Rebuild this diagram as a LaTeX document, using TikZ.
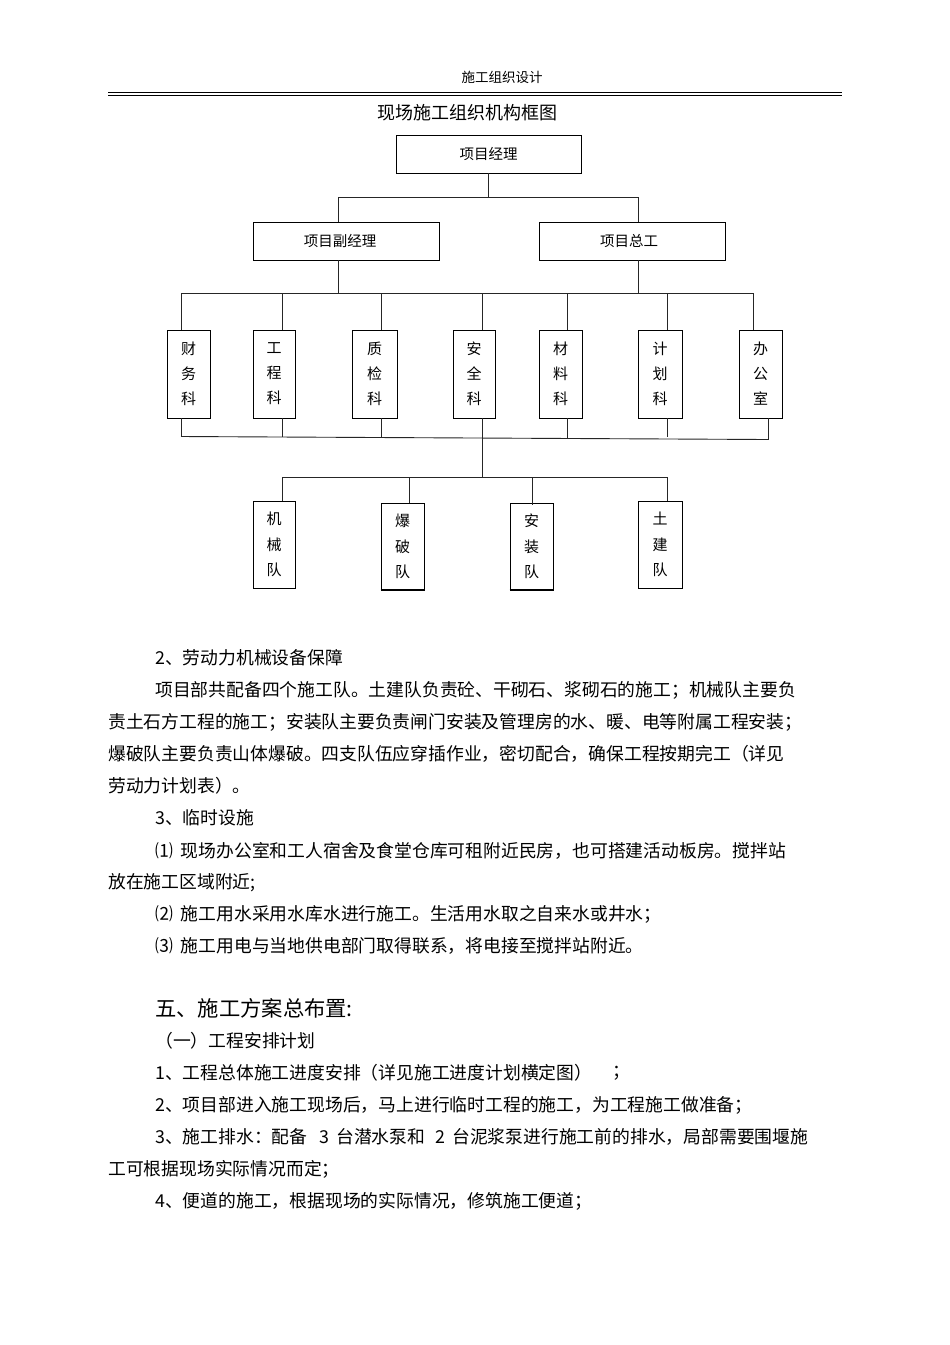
\documentclass[tikz,border=0pt]{standalone}
\usepackage{fontspec}
\setmainfont{Noto Sans CJK SC}
\begin{document}
\begin{tikzpicture}[x=1pt,y=-1pt,
  box/.style={draw=black, line width=0.9pt, inner sep=0pt, fill=white},
  conn/.style={line width=0.9pt, draw=black!85},
  vtext/.style={align=center, font=\fontsize{15}{25}\selectfont},
  ttext/.style={align=center, font=\fontsize{15}{25.5}\selectfont},
  body/.style={anchor=west, inner sep=0pt, font=\fontsize{17.8}{20}\selectfont},
]
\useasboundingbox (0,0) rectangle (950,1345);
\fill[white] (0,0) rectangle (950,1345);

% header
\node[font=\fontsize{13.5}{15}\selectfont, inner sep=0pt] (hdr) at (502,77) {施工组织设计};
\coordinate (hl1) at (108,92.3); \coordinate (hr1) at (842,92.3);
\coordinate (hl2) at (108,95.4); \coordinate (hr2) at (842,95.4);
\draw[line width=1.5pt] (hl1) -- (hr1);
\draw[line width=0.8pt] (hl2) -- (hr2);
\node[font=\fontsize{18}{20}\selectfont, inner sep=0pt] (title) at (467,113) {现场施工组织机构框图};

% top boxes
\node[box, minimum width=185pt, minimum height=38pt, font=\fontsize{14.5}{16}\selectfont] (pm) at (488.5,154) {项目经理};
\node[box, minimum width=186pt, minimum height=38pt, font=\fontsize{14.5}{16}\selectfont] (dep) at (346,241) {\hspace{-12pt}项目副经理};
\node[box, minimum width=186pt, minimum height=38pt, font=\fontsize{14.5}{16}\selectfont] (chief) at (632,241) {\hspace{-6pt}项目总工};

\coordinate (j1) at (488.5,197);
\coordinate (jL) at (338,197);
\coordinate (jR) at (638,197);
\draw[conn] (pm.south) -- (j1);
\draw[conn] (jL) -- (jR);
\draw[conn] (jL) -- (jL |- dep.north);
\draw[conn] (jR) -- (jR |- chief.north);

\coordinate (b1L) at (181,293);
\coordinate (b1R) at (753,293);
\draw[conn] (jL |- dep.south) -- (jL |- b1L);
\draw[conn] (jR |- chief.south) -- (jR |- b1R);
\draw[conn] (b1L) -- (b1R);

% departments
\node[box, minimum width=43pt, minimum height=88pt, vtext] (cw) at (188.5,374) {财\\务\\科};
\node[box, minimum width=42pt, minimum height=88pt, vtext] (gc) at (274,374) {工\\程\\科};
\node[box, minimum width=45pt, minimum height=88pt, vtext] (zj) at (374.5,374) {质\\检\\科};
\node[box, minimum width=42pt, minimum height=88pt, vtext] (aq) at (474,374) {安\\全\\科};
\node[box, minimum width=43pt, minimum height=88pt, vtext] (cl) at (560.5,374) {材\\料\\科};
\node[box, minimum width=44pt, minimum height=88pt, vtext] (jh) at (660,374) {计\\划\\科};
\node[box, minimum width=43pt, minimum height=88pt, vtext] (bgs) at (760.5,374) {办\\公\\室};

\draw[conn] (b1L) -- (b1L |- cw.north);
\draw[conn] ([xshift=8pt]gc.north |- b1L) -- ([xshift=8pt]gc.north);
\draw[conn] ([xshift=6.5pt]zj.north |- b1L) -- ([xshift=6.5pt]zj.north);
\draw[conn] ([xshift=8pt]aq.north |- b1L) -- ([xshift=8pt]aq.north);
\draw[conn] ([xshift=6.5pt]cl.north |- b1L) -- ([xshift=6.5pt]cl.north);
\draw[conn] ([xshift=7pt]jh.north |- b1L) -- ([xshift=7pt]jh.north);
\draw[conn] (b1R) -- (b1R |- bgs.north);

% bottom bar of departments
\coordinate (b2L) at (181,436.5);
\coordinate (b2R) at (768,439.5);
\draw[conn] (b2L) -- (b2R);
\draw[conn] ([xshift=-7.5pt]cw.south) -- (b2L);
\draw[conn] ([xshift=8pt]gc.south) -- ++(0,18.5);
\draw[conn] ([xshift=6.5pt]zj.south) -- ++(0,19);
\draw[conn] ([xshift=8pt]aq.south) -- ++(0,19);
\draw[conn] ([xshift=6.5pt]cl.south) -- ++(0,20);
\draw[conn] ([xshift=7pt]jh.south) -- ++(0,19);
\draw[conn] ([xshift=7.5pt]bgs.south) -- (b2R);

% trunk to teams
\coordinate (t0) at (482,437);
\coordinate (t1) at (482,477);
\coordinate (tL) at (282,477);
\coordinate (tR) at (667,477);
\draw[conn] (t0) -- (t1);
\draw[conn] (tL) -- (tR);

% teams
\node[box, minimum width=42pt, minimum height=87pt, ttext] (jx) at (274,544.5) {机\\械\\队};
\node[box, minimum width=43pt, minimum height=87pt, ttext] (bp) at (402.5,546.5) {爆\\破\\队};
\node[box, minimum width=43pt, minimum height=87pt, ttext] (az) at (531.5,546.5) {安\\装\\队};
\node[box, minimum width=44pt, minimum height=87pt, ttext] (tj) at (660,544.5) {土\\建\\队};
\draw[line width=2pt] (bp.south west) -- (bp.south east);
\draw[line width=2pt] (az.south west) -- (az.south east);

\draw[conn] (tL) -- (tL |- jx.north);
\draw[conn] ([xshift=6.5pt]bp.north |- tL) -- ([xshift=6.5pt]bp.north);
\draw[conn] ([xshift=0.5pt]az.north |- tL) -- ([xshift=0.5pt,yshift=-2pt]az.north);
\draw[conn] (tR) -- (tR |- tj.north);

% body text
\node[body] (l1) at (155,658) {2、劳动力机械设备保障};
\node[body] (l2) at (155,690) {项目部共配备四个施工队。土建队负责砼、干砌石、浆砌石的施工；机械队主要负};
\node[body] (l3) at (108,722) {责土石方工程的施工；安装队主要负责闸门安装及管理房的水、暖、电等附属工程安装；};
\node[body] (l4) at (108,754) {爆破队主要负责山体爆破。四支队伍应穿插作业，密切配合，确保工程按期完工（详见};
\node[body] (l5) at (108,786) {劳动力计划表）。};
\node[body] (l6) at (155,818) {3、临时设施};
\node[body] (l7) at (155,851) {⑴\hspace{8pt}现场办公室和工人宿舍及食堂仓库可租附近民房，也可搭建活动板房。搅拌站};
\node[body] (l8) at (108,883) {放在施工区域附近;};
\node[body] (l9) at (155,914) {⑵\hspace{8pt}施工用水采用水库水进行施工。生活用水取之自来水或井水；};
\node[body] (l10) at (155,946) {⑶\hspace{8pt}施工用电与当地供电部门取得联系，将电接至搅拌站附近。};

\node[body, font=\fontsize{21.3}{24}\selectfont] (h5) at (155,1008) {五、施工方案总布置:};
\node[body] (s1) at (155,1041) {（一）工程安排计划};
\node[body] (p1) at (155,1073) {1、工程总体施工进度安排（详见施工进度计划横定图）};
\node[body] (p1b) at (612,1073) {；};
\node[body] (p2) at (155,1105) {2、项目部进入施工现场后，马上进行临时工程的施工，为工程施工做准备；};
\node[body] (p3) at (155,1137) {3、施工排水：配备\hspace{12pt}3\hspace{7pt}台潜水泵和\hspace{10pt}2\hspace{7pt}台泥浆泵进行施工前的排水，局部需要围堰施};
\node[body] (p3b) at (108,1169) {工可根据现场实际情况而定；};
\node[body] (p4) at (155,1201) {4、便道的施工，根据现场的实际情况，修筑施工便道；};
\end{tikzpicture}
\end{document}
